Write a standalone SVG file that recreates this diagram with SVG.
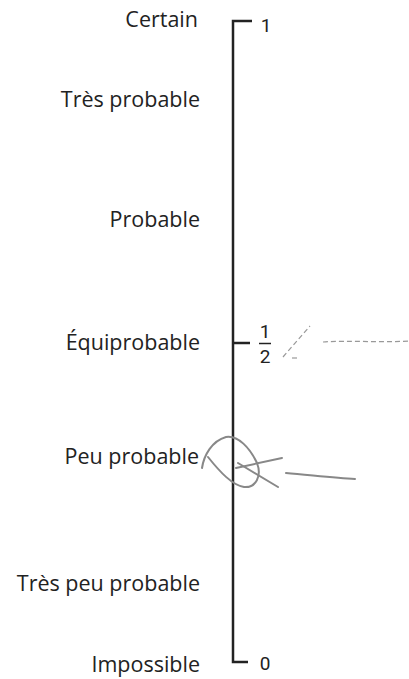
<svg xmlns="http://www.w3.org/2000/svg" width="409" height="679" viewBox="0 0 409 679">
<style>
.lbl{font-family:"Open Sans","Noto Sans",sans-serif;font-size:21.5px;fill:#222;text-anchor:end}
.num{font-family:"Roboto","Liberation Sans",sans-serif;font-size:19px;fill:#222;text-anchor:middle}
.axis{stroke:#222;stroke-width:2.5;fill:none}
.pen{stroke:#888;stroke-width:2;fill:none;stroke-linecap:round}
.faint{stroke:#999;stroke-width:1.2;fill:none;stroke-dasharray:5 3}
</style>
<rect width="409" height="679" fill="#fff"/>
<g id="labels">
<text class="lbl" x="198" y="27">Certain</text>
<text class="lbl" x="200" y="107">Très probable</text>
<text class="lbl" x="200" y="227">Probable</text>
<text class="lbl" x="200" y="350">Équiprobable</text>
<text class="lbl" x="199" y="464">Peu probable</text>
<text class="lbl" x="200" y="591">Très peu probable</text>
<text class="lbl" x="200" y="672">Impossible</text>
</g>
<g id="axis">
<path class="axis" d="M252 21 H233 V662 H248"/>
<path class="axis" d="M233 343 H250"/>
<text class="num" x="266" y="32">1</text>
<text class="num" x="265" y="338">1</text>
<path d="M259 343.5 H271" stroke="#222" stroke-width="1.5"/>
<text class="num" x="265" y="363">2</text>
<text class="num" x="265" y="670">0</text>
</g>
<g id="annotations">
<path class="faint" d="M283 357 L310 326"/>
<path class="faint" d="M292 358 L298 358"/>
<path class="faint" d="M323 342 C350 340 380 343 409 341"/>
<path class="pen" d="M202 468 C204 455 212 441 226 437 C238 435 250 448 257 463 C262 476 256 488 244 487 C232 485 220 472 208 457"/>
<path class="pen" d="M236 468 L282 458"/>
<path class="pen" d="M238 463 L278 487"/>
<path class="pen" d="M286 473 C310 475 335 478 355 479"/>
</g>
</svg>
